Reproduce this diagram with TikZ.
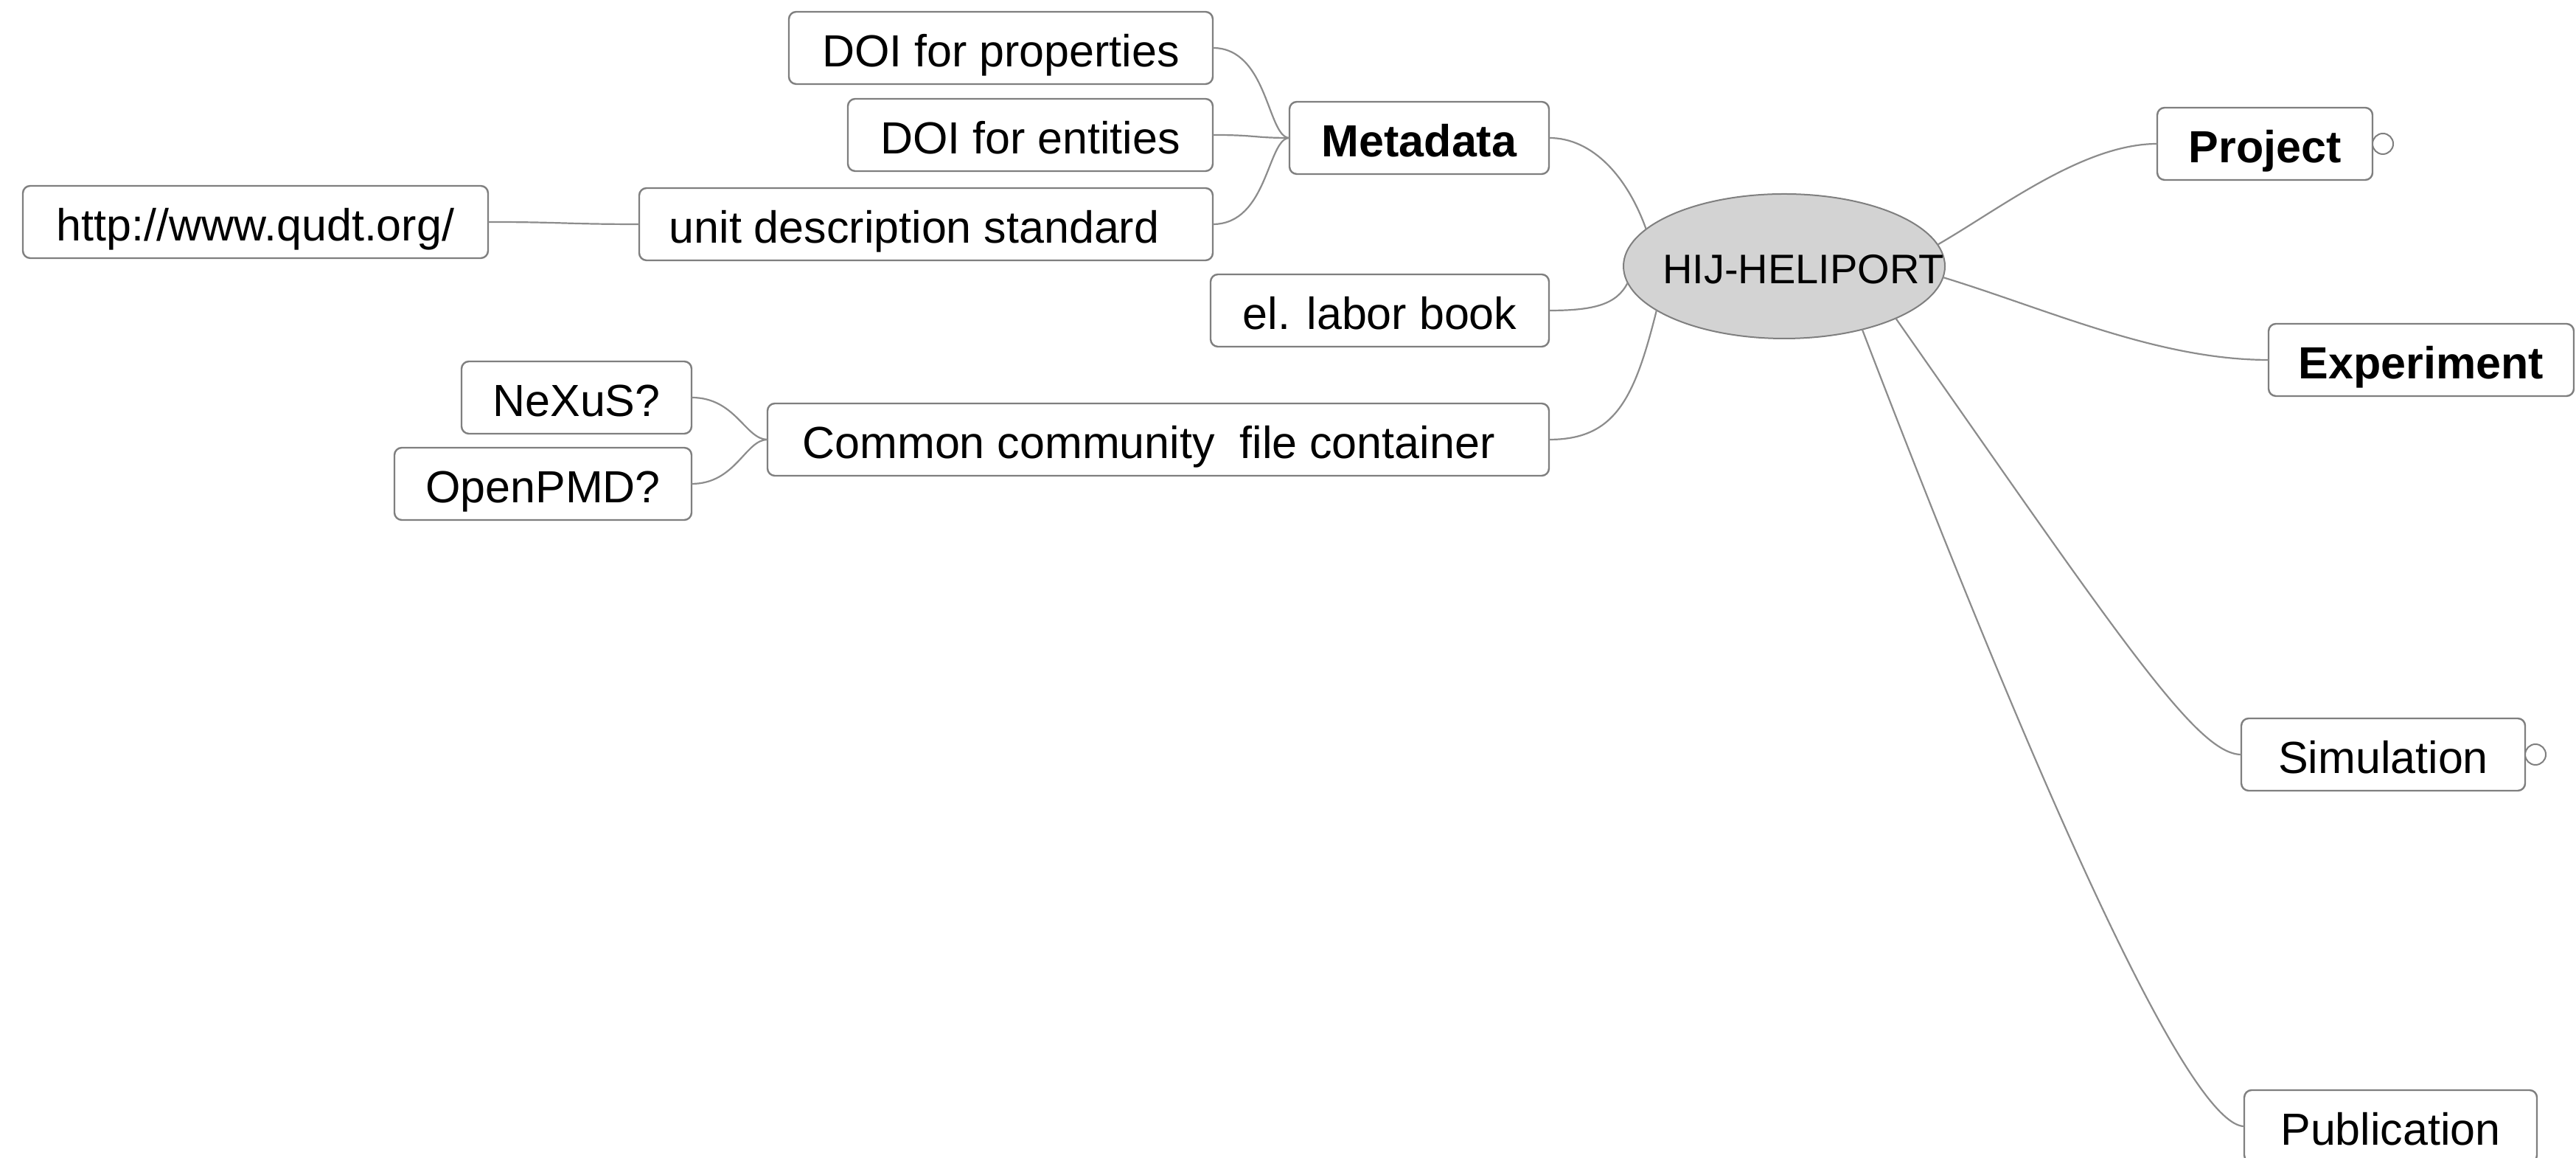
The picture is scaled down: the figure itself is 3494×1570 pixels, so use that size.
\documentclass[tikz,border=0pt]{standalone}
\usepackage{fontspec}
\setmainfont{Liberation Sans}
\usetikzlibrary{shapes.geometric}
\definecolor{edgegray}{HTML}{8C8C8C}
\definecolor{boxgray}{HTML}{7F7F7F}
\definecolor{hubfill}{HTML}{D3D3D3}

\begin{document}
\begin{tikzpicture}[x=1pt,y=1pt,
  topic/.style={draw=boxgray, line width=2.4pt, rounded corners=10pt, fill=white,
    inner sep=0pt, outer sep=0pt, minimum height=98pt,
    font=\fontsize{61}{70}\selectfont, text height=52pt, text depth=0pt},
  major/.style={topic, font=\fontsize{61}{70}\selectfont\bfseries},
  link/.style={draw=edgegray, line width=2.2pt},
  fold/.style={circle, draw=boxgray, line width=2pt, fill=white, minimum size=28pt,
    inner sep=0pt, outer sep=0pt, anchor=west},
  hubshape/.style={ellipse, draw=boxgray, line width=2pt, fill=hubfill,
    minimum width=436pt, minimum height=196pt, inner sep=0pt, outer sep=0pt}]

\clip (0,0) rectangle (3494,1570);

% central topic
\node[hubshape] (hub) at (2420,1209) {};
\node[font=\fontsize{56}{64}\selectfont, text height=48pt, text depth=0pt, inner sep=0pt]
  (hubtext) at (2446,1209) {HIJ-HELIPORT};

% left branch
\node[major, minimum width=352pt] (meta) at (1925,1383) {Metadata};
\node[topic, minimum width=575pt] (dprop) at (1357.5,1505) {DOI for properties};
\node[topic, minimum width=495pt] (dent) at (1397.5,1387) {DOI for entities};
\node[topic, minimum width=778pt] (unit) at (1256,1266) {unit description standard\hspace*{32pt}};
\node[topic, minimum width=631pt] (http) at (346.5,1269) {http://www.qudt.org/};
\node[topic, minimum width=459pt] (elab) at (1871.5,1149) {el. labor book};
\node[topic, minimum width=1060pt] (common) at (1571,974) {Common community\ \ file container\hspace*{26pt}};
\node[topic, minimum width=312pt] (nexus) at (782,1031) {NeXuS?};
\node[topic, minimum width=403pt] (openpmd) at (736.5,914) {OpenPMD?};

% right branch
\node[major, minimum width=292pt] (proj) at (3072,1375) {Project};
\node[major, minimum width=414pt] (exp) at (3284,1082) {Experiment};
\node[topic, minimum width=385pt] (sim) at (3232.5,547) {Simulation};
\node[topic, minimum width=397pt] (pub) at (3242.5,43) {Publication};

% collapsed markers
\node[fold] (projfold) at (proj.east) {};
\node[fold] (simfold) at (sim.east) {};

% connectors, left side
\draw[link] (dprop.east) .. controls +(75,0) and +(-30,0) .. (meta.west);
\draw[link] (dent.east) .. controls +(60,0) and +(-50,0) .. (meta.west);
\draw[link] (unit.east) .. controls +(75,0) and +(-30,0) .. (meta.west);
\draw[link] (http.east) .. controls +(100,0) and +(-100,0) .. (unit.west);
\draw[link] (nexus.east) .. controls +(60,0) and +(-30,0) .. (common.west);
\draw[link] (openpmd.east) .. controls +(60,0) and +(-30,0) .. (common.west);
\draw[link] (meta.east) .. controls +(60,0) and +(-25,70) .. (hub.165);
\draw[link] (elab.east) .. controls +(60,0) and +(-15,-30) .. (hub.186);
\draw[link] (common.east) .. controls +(90,0) and +(-30,-120) .. (hub.199);

% connectors, right side
\draw[link] (hub.8.4) .. controls +(30:100) and +(-100,0) .. (proj.west);
\draw[link] (hub.-4) .. controls +(-17:150) and +(-150,0) .. (exp.west);
\draw[link] (hub.-25.3) .. controls +(-55:535) and +(-60,0) .. (sim.west);
\draw[link] (hub.-39) .. controls +(-69:900) and +(-54,0) .. (pub.west);
\end{tikzpicture}
\end{document}
